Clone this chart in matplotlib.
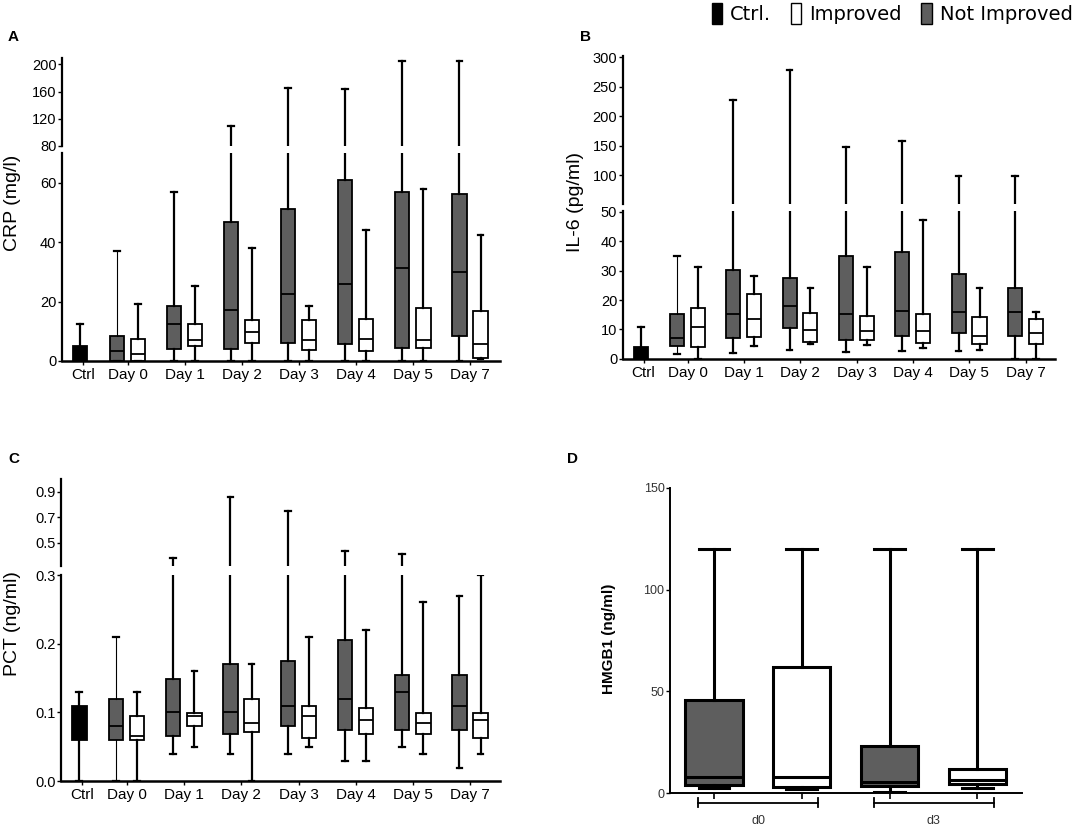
import matplotlib
matplotlib.use('Agg')
import matplotlib.pyplot as plt
from matplotlib.patches import Patch

plt.rcParams['font.family'] = ['Liberation Sans', 'DejaVu Sans']

# box stats as (whisker low, q1, median, q3, whisker high)
x_labels = ['Ctrl', 'Day 0', 'Day 1', 'Day 2', 'Day 3', 'Day 4', 'Day 5', 'Day 7']

crp_ctrl = (0, 0, 2.0, 5.2, 12.6)
crp_not_improved = [(0, 0, 3.5, 8.4, 36.9), (0, 4.0, 12.6, 18.6, 56.8),
                    (0, 4.0, 17.2, 46.8, 110), (0, 5.9, 22.7, 51.3, 165),
                    (0, 5.6, 25.8, 61.0, 164), (0, 4.5, 31.3, 57.0, 205),
                    (0, 8.4, 29.9, 56.1, 205)]
crp_improved = [(0, 0, 2.3, 7.4, 19.1), (0, 5.2, 7.0, 12.6, 25.3),
                (0, 5.9, 9.7, 13.7, 38.0), (0, 3.8, 7.2, 13.7, 18.6),
                (0, 3.4, 7.4, 14.2, 44.1), (0, 4.3, 7.2, 17.8, 57.8),
                (0.5, 1.1, 5.6, 16.7, 42.3)]

il6_ctrl = (0, 0, 2.0, 4.0, 11.0)
il6_not_improved = [(1.6, 4.5, 7.0, 15.2, 35.1), (2.0, 7.2, 15.2, 30.2, 227),
                    (2.9, 10.6, 18.1, 27.6, 278), (2.3, 6.6, 15.2, 35.1, 148),
                    (2.7, 7.9, 16.4, 36.2, 157), (2.7, 8.8, 15.8, 28.8, 99),
                    (0, 7.8, 15.8, 24.2, 99)]
il6_improved = [(0, 4.2, 11.0, 17.2, 31.1), (4.5, 7.5, 13.5, 21.9, 28.2),
                (5.2, 5.7, 9.7, 15.6, 24.1), (4.8, 6.3, 9.5, 14.5, 31.1),
                (3.6, 5.4, 9.5, 15.2, 47.1), (3.1, 5.0, 7.9, 14.4, 24.1),
                (0, 5.0, 8.8, 13.6, 15.8)]

pct_ctrl = (0, 0.06, 0.085, 0.109, 0.129)
pct_not_improved = [(0, 0.06, 0.08, 0.119, 0.21), (0.04, 0.065, 0.10, 0.149, 0.382),
                    (0.04, 0.069, 0.10, 0.17, 0.863), (0.04, 0.08, 0.109, 0.175, 0.747),
                    (0.029, 0.075, 0.12, 0.205, 0.43), (0.049, 0.075, 0.129, 0.155, 0.413),
                    (0.019, 0.075, 0.109, 0.155, 0.27)]
pct_improved = [(0, 0.06, 0.065, 0.095, 0.129), (0.049, 0.08, 0.095, 0.099, 0.16),
                (0, 0.072, 0.085, 0.119, 0.17), (0.049, 0.062, 0.095, 0.109, 0.21),
                (0.029, 0.069, 0.089, 0.106, 0.22), (0.04, 0.069, 0.085, 0.099, 0.26),
                (0.04, 0.062, 0.089, 0.099, 0.30)]

hmgb1_groups = ['d0', 'd3']
hmgb1_not_improved = [(2.5, 4.1, 7.9, 45.8, 120), (0.7, 3.6, 5.7, 23.1, 120)]
hmgb1_improved = [(2.0, 3.3, 7.9, 62.0, 120), (2.5, 4.6, 6.5, 11.8, 120)]

DARK = '#5e5e5e'


def to_stats(rows):
    return [dict(whislo=r[0], q1=r[1], med=r[2], q3=r[3], whishi=r[4], fliers=[]) for r in rows]


def draw_boxes(ax, ctrl, ni, imp, lw=1.3):
    day_x = list(range(len(ni)))
    groups = [([ctrl], [-0.83], 'black'),
              (ni, [x - 0.19 for x in day_x], DARK),
              (imp, [x + 0.18 for x in day_x], 'white')]
    for rows, pos, col in groups:
        art = ax.bxp(to_stats(rows), positions=pos, widths=0.25, capwidths=0.1,
                     patch_artist=True, showfliers=False, manage_ticks=False,
                     boxprops=dict(facecolor=col, edgecolor='black', linewidth=lw),
                     whiskerprops=dict(color='black', linewidth=1.6),
                     capprops=dict(color='black', linewidth=1.6),
                     medianprops=dict(color='black', linewidth=1.3))
        if col == DARK:
            # Day 0 whisker is drawn thinner in the original
            for w in art['whiskers'][:2]:
                w.set_linewidth(0.8)


def broken_panel(fig, lo_rect, hi_rect, lo_lim, hi_lim, lo_ticks, hi_ticks,
                 ctrl, ni, imp, tickfmt):
    ax_lo = fig.add_axes(lo_rect)
    ax_hi = fig.add_axes(hi_rect, sharex=ax_lo)
    for ax in (ax_lo, ax_hi):
        draw_boxes(ax, ctrl, ni, imp)
        ax.set_xlim(-1.15, 6.52)
        for s in ['top', 'right']:
            ax.spines[s].set_visible(False)
        ax.spines['left'].set_linewidth(1.6)
        ax.tick_params(axis='y', labelsize=10.5, length=3, width=1, pad=1)
    ax_lo.set_ylim(*lo_lim)
    ax_hi.set_ylim(*hi_lim)
    ax_lo.set_yticks(lo_ticks)
    ax_hi.set_yticks(hi_ticks)
    ax_lo.set_yticklabels([tickfmt.format(t) for t in lo_ticks])
    ax_hi.set_yticklabels([tickfmt.format(t) for t in hi_ticks])
    ax_hi.spines['bottom'].set_visible(False)
    ax_hi.tick_params(axis='x', bottom=False, labelbottom=False)
    ax_lo.spines['bottom'].set_linewidth(1.8)
    ax_lo.set_xticks([-0.78] + list(range(len(ni))))
    ax_lo.set_xticklabels(x_labels)
    ax_lo.tick_params(axis='x', labelsize=11, length=3, width=1, pad=2)
    return ax_lo, ax_hi


fig = plt.figure(figsize=(10.84, 8.30), dpi=100)

# A: CRP
broken_panel(fig, [0.0572, 0.5651, 0.404, 0.251], [0.0572, 0.8241, 0.404, 0.1057],
             (0, 70.2), (80, 209), [0, 20, 40, 60], [80, 120, 160, 200],
             crp_ctrl, crp_not_improved, crp_improved, '{:g}')
fig.text(13 / 1084, 1 - 203 / 830, 'CRP (mg/l)', rotation=90, ha='center', va='center', fontsize=14)

# B: IL-6
broken_panel(fig, [0.5745, 0.5675, 0.3988, 0.1783], [0.5745, 0.7537, 0.3988, 0.1787],
             (0, 50.2), (50, 302), [0, 10, 20, 30, 40, 50], [100, 150, 200, 250, 300],
             il6_ctrl, il6_not_improved, il6_improved, '{:g}')
fig.text(575 / 1084, 1 - 202 / 830, 'IL-6 (pg/ml)', rotation=90, ha='center', va='center', fontsize=14)

# C: PCT
broken_panel(fig, [0.0563, 0.059, 0.405, 0.2482], [0.0563, 0.3180, 0.405, 0.1046],
             (0, 0.3), (0.315, 1.0), [0.0, 0.1, 0.2, 0.3], [0.5, 0.7, 0.9],
             pct_ctrl, pct_not_improved, pct_improved, '{:.1f}')
fig.text(13 / 1084, 1 - 624 / 830, 'PCT (ng/ml)', rotation=90, ha='center', va='center', fontsize=14)

# D: HMGB1
axd = fig.add_axes([0.6181, 0.0442, 0.3244, 0.3682])
pos_d = [1, 2, 3, 4]
stats_d = to_stats([hmgb1_not_improved[0], hmgb1_improved[0],
                    hmgb1_not_improved[1], hmgb1_improved[1]])
art = axd.bxp(stats_d, positions=pos_d, widths=0.654, capwidths=0.35,
              patch_artist=True, showfliers=False, manage_ticks=False,
              boxprops=dict(edgecolor='black', linewidth=2.2),
              whiskerprops=dict(color='black', linewidth=2.2),
              capprops=dict(color='black', linewidth=2.2),
              medianprops=dict(color='black', linewidth=2.2))
for b, col in zip(art['boxes'], [DARK, 'white', DARK, 'white']):
    b.set_facecolor(col)
axd.set_xlim(0.498, 4.506)
axd.set_ylim(0, 150)
axd.set_yticks([0, 50, 100, 150])
axd.set_xticks(pos_d)
axd.set_xticklabels([])
for s in ['top', 'right']:
    axd.spines[s].set_visible(False)
for s in ['left', 'bottom']:
    axd.spines[s].set_linewidth(1.4)
axd.tick_params(axis='y', labelsize=9, labelcolor='#333333', length=3, width=1, pad=1)
axd.tick_params(axis='x', length=4, width=1.2)
for i, name in enumerate(hmgb1_groups):
    left = pos_d[2 * i] - 0.18
    right = pos_d[2 * i + 1] + 0.19
    axd.plot([left, right], [-4.6, -4.6], color='black', lw=1.3, clip_on=False)
    axd.plot([left, left], [-2.5, -6.9], color='black', lw=1.3, clip_on=False)
    axd.plot([right, right], [-2.5, -6.9], color='black', lw=1.3, clip_on=False)
    axd.text((left + right) / 2, -13.8, name, ha='center', va='center', fontsize=9, color='#333333')
fig.text(609 / 1084, 1 - 639 / 830, 'HMGB1 (ng/ml)', rotation=90, ha='center', va='center',
         fontsize=11, fontweight='bold')

# panel letters
for letter, x, y in [('A', 8, 37), ('B', 580, 37), ('C', 8, 459), ('D', 567, 459)]:
    fig.text(x / 1084, 1 - y / 830, letter, fontsize=11, fontweight='bold', ha='left', va='center')

# legend
handles = [Patch(facecolor='black', edgecolor='black'),
           Patch(facecolor='white', edgecolor='black'),
           Patch(facecolor=DARK, edgecolor='black')]
fig.legend(handles, ['Ctrl.', 'Improved', 'Not Improved'], loc='upper right',
           bbox_to_anchor=(1090 / 1084, 1.018), ncol=3, frameon=False,
           handlelength=0.55, handleheight=1.3, handletextpad=0.4, columnspacing=1.0,
           prop=dict(family='DejaVu Sans', size=14))

fig.savefig('out.png', dpi=100)
